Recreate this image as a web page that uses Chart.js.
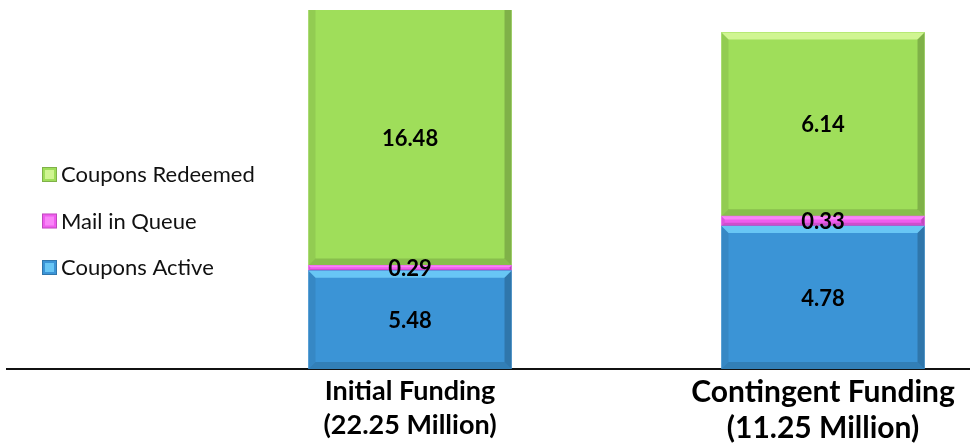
<!DOCTYPE html>
<html>
<head>
<meta charset="utf-8">
<script src="https://cdn.jsdelivr.net/npm/chart.js@4.4.0/dist/chart.umd.min.js"></script>
<style>
  html, body { margin: 0; padding: 0; background: #fff; }
  #wrap { width: 970px; height: 444px; }
</style>
</head>
<body>
<div id="wrap"><canvas id="fundingChart"></canvas></div>
<script>
// chart values
const categories = [['Initial Funding', '(22.25 Million)'], ['Contingent Funding', '(11.25 Million)']];
const seriesNames = ['Coupons Active', 'Mail in Queue', 'Coupons Redeemed'];
const initialValues = [5.48, 0.29, 16.48];
const contingentValues = [4.78, 0.33, 6.14];

// styles
const seriesColors = ['#3b94d6', '#ef5cee', '#9fde5a'];
const seriesLights = ['rgba(120,215,255,0.75)', 'rgba(255,160,255,0.6)', 'rgba(220,250,160,0.8)'];
const FONT = 'Lato, "Open Sans", sans-serif';

// one stack per bar, each bar on its own value axis (like the original sheet)
const datasets = [];
[initialValues, contingentValues].forEach((vals, ci) => {
  vals.forEach((v, si) => {
    datasets.push({
      label: seriesNames[si],
      data: [{ x: ci, y: v }],
      yAxisID: ci === 0 ? 'y' : 'y2',
      backgroundColor: seriesColors[si],
      borderWidth: 0,
      barThickness: 203,
      grouped: false,
      series: si
    });
  });
});

// little bevel on every bar, the sheet had one
const bevel = {
  id: 'bevel',
  afterDatasetDraw(chart, args) {
    const { ctx, chartArea } = chart;
    const light = seriesLights[chart.data.datasets[args.index].series];
    ctx.save();
    ctx.beginPath();
    ctx.rect(chartArea.left, chartArea.top, chartArea.right - chartArea.left, chartArea.bottom - chartArea.top);
    ctx.clip();
    args.meta.data.forEach((bar) => {
      const x0 = bar.x - bar.width / 2, x1 = bar.x + bar.width / 2;
      const y0 = bar.y, y1 = bar.base;
      const b = Math.min(7, (y1 - y0) / 3);
      const poly = (pts, color) => {
        ctx.beginPath();
        ctx.moveTo(pts[0][0], pts[0][1]);
        pts.slice(1).forEach((p) => ctx.lineTo(p[0], p[1]));
        ctx.closePath();
        ctx.fillStyle = color;
        ctx.fill();
      };
      poly([[x0, y0], [x1, y0], [x1 - b, y0 + b], [x0 + b, y0 + b]], light);
      poly([[x1, y0], [x1, y1], [x1 - b, y1 - b], [x1 - b, y0 + b]], 'rgba(0,0,0,0.2)');
      poly([[x0, y1], [x1, y1], [x1 - b, y1 - b], [x0 + b, y1 - b]], 'rgba(0,0,0,0.14)');
      poly([[x0, y0], [x0, y1], [x0 + b, y1 - b], [x0 + b, y0 + b]], 'rgba(0,0,0,0.08)');
    });
    ctx.restore();
  }
};

// value in the middle of the visible part of each segment
const valueLabels = {
  id: 'valueLabels',
  afterDatasetsDraw(chart) {
    const { ctx, chartArea } = chart;
    ctx.save();
    ctx.font = 'bold 22px ' + FONT;
    ctx.fillStyle = '#000';
    ctx.textAlign = 'center';
    ctx.textBaseline = 'middle';
    chart.data.datasets.forEach((ds, i) => {
      chart.getDatasetMeta(i).data.forEach((bar, j) => {
        const top = Math.max(bar.y, chartArea.top);
        const bottom = Math.min(bar.base, chartArea.bottom);
        ctx.fillText(ds.data[j].y.toFixed(2), bar.x, (top + bottom) / 2 + 1);
      });
    });
    ctx.restore();
  }
};

// legend sits over the left part of the plot, top entry = top segment
const sideLegend = {
  id: 'sideLegend',
  afterDraw(chart) {
    const { ctx } = chart;
    ctx.save();
    ctx.font = '22px ' + FONT;
    ctx.textBaseline = 'middle';
    ctx.textAlign = 'left';
    const order = [2, 1, 0];
    order.forEach((si, row) => {
      const y = 174 + row * 46.5;
      ctx.fillStyle = seriesColors[si];
      ctx.fillRect(42, y - 7, 15, 15);
      ctx.fillStyle = seriesLights[si];
      ctx.fillRect(45, y - 4, 9, 9);
      ctx.strokeStyle = 'rgba(0,0,0,0.2)';
      ctx.lineWidth = 1;
      ctx.strokeRect(42.5, y - 6.5, 14, 14);
      ctx.fillStyle = '#111';
      ctx.fillText(seriesNames[si], 61, y + 1);
    });
    ctx.restore();
  }
};

new Chart(document.getElementById('fundingChart'), {
  type: 'bar',
  data: { datasets },
  options: {
    responsive: true,
    maintainAspectRatio: false,
    animation: false,
    layout: { padding: { left: 7, top: 10, right: 0, bottom: 0 } },
    plugins: {
      legend: { display: false },
      tooltip: { enabled: false }
    },
    scales: {
      x: {
        type: 'linear',
        offset: false,
        min: -0.9758,
        max: 1.3559,
        afterBuildTicks: (axis) => { axis.ticks = categories.map((c, i) => ({ value: i })); },
        afterFit: (axis) => { axis.height = 75; },
        ticks: {
          autoSkip: false,
          maxRotation: 0,
          padding: 6,
          color: '#000',
          callback: (value, index) => categories[index],
          font: (ctx) => ctx.index === 1
            ? { family: FONT, size: 30, weight: 'bold', lineHeight: 1.18 }
            : { family: FONT, size: 27, weight: 'bold', lineHeight: 1.24 }
        },
        grid: { display: false, drawTicks: false, offset: false },
        border: { display: true, color: '#111', width: 2 }
      },
      y: { display: false, stacked: true, min: 0, max: 20 },
      y2: { display: false, stacked: true, min: 0, max: 12, position: 'right' }
    }
  },
  plugins: [bevel, valueLabels, sideLegend]
});
</script>
</body>
</html>
